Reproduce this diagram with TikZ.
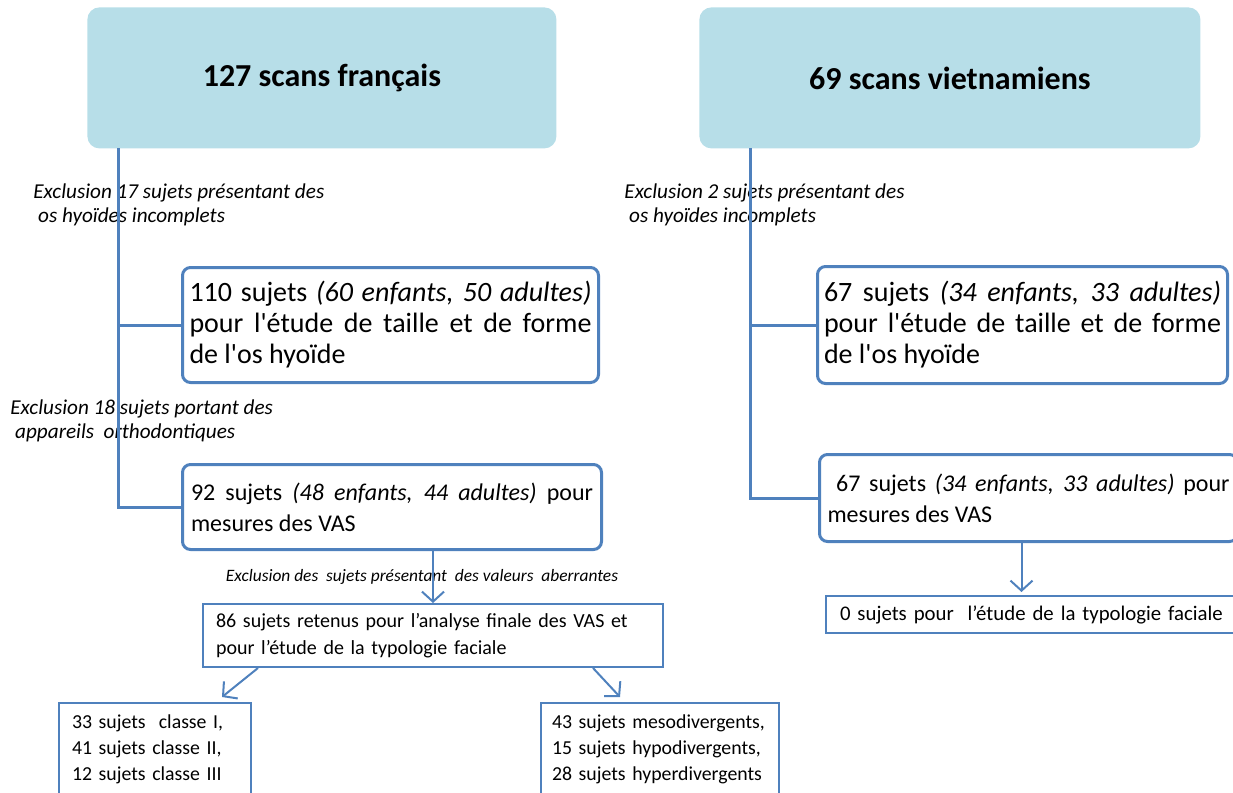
\documentclass[tikz,border=0pt]{standalone}
\usepackage{fontspec}
\setmainfont{Carlito}[Ligatures=TeXOff]
\usepackage{xcolor}
\usepackage{tikz}
\usetikzlibrary{arrows.meta}
\definecolor{lineblue}{HTML}{4F81BD}
\definecolor{titlefill}{HTML}{B7DEE8}
\tikzset{
  titlebox/.style={fill=titlefill, rounded corners=6pt, anchor=north west, minimum height=70.5pt,
    font=\fontsize{16}{19}\selectfont\bfseries},
  roundbox/.style={draw=lineblue, line width=1.5pt, rounded corners=4pt, fill=white, anchor=north west,
    text width=201pt, inner xsep=3.5pt, align=justify, font=\fontsize{12}{15.5}\selectfont},
  bigtext/.style={font=\fontsize{14}{15.5}\selectfont},
  flatbox/.style={draw=lineblue, line width=1pt, fill=white, anchor=north west, align=left,
    font=\fontsize{10}{13.5}\selectfont},
  exclnote/.style={anchor=north west, align=left, inner sep=0pt, font=\fontsize{10.6}{12}\selectfont\itshape},
  trunk/.style={draw=lineblue, line width=1.5pt},
  flowarrow/.style={draw=lineblue, line width=1pt, -{Straight Barb[length=5pt,width=11pt]}},
}

\begin{document}
\begin{tikzpicture}[x=0.5pt,y=-0.5pt]
  \useasboundingbox (0,0) rectangle (1233,793);
  % titles
  \node[titlebox, minimum width=234.5pt] (fr) at (87,7) {127 scans français};
  \node[titlebox, minimum width=250.5pt] (vn) at (699,7) {69 scans vietnamiens};

  % french side
  \node[exclnote] (excfra) at (33,183) {Exclusion 17 sujets présentant des\\ \ os hyoïdes incomplets};
  \node[roundbox, bigtext, minimum height=57.5pt] (n110) at (181,266)
    {110 sujets \textit{(60 enfants, 50 adultes)}\linebreak pour l'étude de taille et de forme\linebreak de l'os hyoïde};
  \node[exclnote] (excfrb) at (10,399) {Exclusion 18 sujets portant des\\ \ appareils\ \ orthodontiques};
  \node[roundbox, minimum height=42.5pt, inner xsep=4.25pt] (n92) at (181,463)
    {92 sujets \textit{(48 enfants, 44 adultes)} pour\linebreak mesures des VAS};
  \node[font=\fontsize{8.7}{10}\selectfont\itshape, inner sep=0pt] (excval) at (422,577)
    {Exclusion des\ \ sujets présentant\ \ des valeurs\ \ aberrantes};
  \node[flatbox, minimum width=230pt, minimum height=31.5pt, inner xsep=6.5pt, text width=217pt] (n86) at (202,603)
    {86 sujets retenus pour l’analyse finale des VAS et\\ pour l’étude de la typologie faciale};
  \node[flatbox, minimum width=96pt, minimum height=46pt, inner xsep=6.5pt, text width=83pt,
        font=\fontsize{9.9}{13}\selectfont] (n33) at (58,702)
    {33 sujets\ \ classe I,\\ 41 sujets classe II,\\ 12 sujets classe III};
  \node[flatbox, minimum width=119pt, minimum height=46pt, inner xsep=5.5pt, text width=108pt,
        font=\fontsize{9.9}{13}\selectfont] (n43) at (540,702)
    {43 sujets mesodivergents,\\ 15 sujets hypodivergents,\\ 28 sujets hyperdivergents};

  % vietnamese side
  \node[exclnote] (excvn) at (624,183) {Exclusion 2 sujets présentant des\\ \ os hyoïdes incomplets};
  \node[roundbox, bigtext, minimum height=58.5pt, text width=198.5pt, inner xsep=3.25pt] (v67t) at (816,265)
    {67 sujets \textit{(34 enfants, 33 adultes)}\linebreak pour l'étude de taille et de forme\linebreak de l'os hyoïde};
  \node[roundbox, minimum height=43.5pt, inner xsep=4pt] (v67m) at (818,453)
    {\ 67 sujets \textit{(34 enfants, 33 adultes)} pour\linebreak mesures des VAS};
  \node[flatbox, minimum width=210pt, minimum height=18.5pt, inner xsep=7pt, text width=196pt,
        font=\fontsize{10.4}{13}\selectfont] (n0) at (825,595)
    {0 sujets pour\ \ l’étude de la typologie faciale};

  % connectors
  \coordinate (frfoot) at (118,148);
  \coordinate (vnfoot) at (750,148);
  \draw[trunk] (frfoot) |- (n92.west);
  \draw[trunk] (n110.west) -- (n110.west -| frfoot);
  \draw[trunk] (vnfoot) |- (v67m.west);
  \draw[trunk] (v67t.west) -- (v67t.west -| vnfoot);
  \draw[flowarrow] (n86.north |- n92.south) -- (n86.north);
  \draw[flowarrow] ([xshift=28pt]n86.south west) -- ([xshift=82pt,yshift=2.5pt]n33.north west);
  \draw[flowarrow] ([xshift=-35.5pt]n86.south east) -- ([xshift=40pt,yshift=2.5pt]n43.north west);
  \draw[flowarrow, shorten >=1.5pt] ([xshift=-3.5pt]v67m.south) -- ([xshift=-3.5pt]v67m.south |- n0.north);
\end{tikzpicture}
\end{document}
